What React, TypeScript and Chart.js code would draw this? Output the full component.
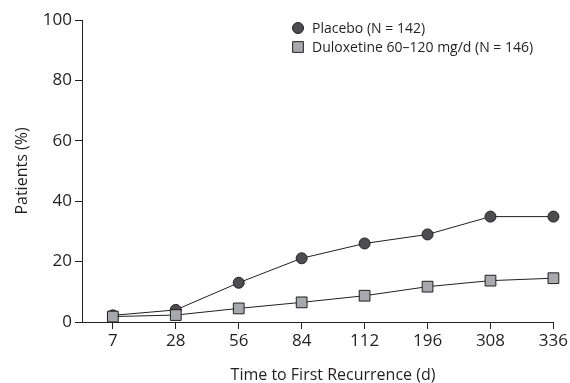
import React, { useEffect, useRef } from "react";
import { Chart, registerables } from "chart.js";

Chart.register(...registerables);

const categories = ["7", "28", "56", "84", "112", "196", "308", "336"];
const placeboValues = [2.2, 4.0, 13.0, 21.1, 26.0, 29.0, 34.9, 34.9];
const duloxetineValues = [1.8, 2.3, 4.5, 6.5, 8.7, 11.7, 13.7, 14.5];
const seriesLabels = ["Placebo (N = 142)", "Duloxetine 60\u2013120 mg/d (N = 146)"];
const yTickValues = [0, 20, 40, 60, 80, 100];
const xTitle = "Time to First Recurrence (d)";
const yTitle = "Patients (%)";

const INK = "#231f20";
const CIRCLE_FILL = "#4d4d4f";
const SQUARE_FILL = "#a7a9ac";
const FONT = "'Open Sans', 'Noto Sans', sans-serif";

const legendPlugin = {
  id: "customLegend",
  afterDraw(chart: any) {
    const ctx = chart.ctx;
    const rows = [
      { label: seriesLabels[0], style: "circle", fill: CIRCLE_FILL, radius: 5.5, y: 28 },
      { label: seriesLabels[1], style: "rect", fill: SQUARE_FILL, radius: 7.6, y: 47 },
    ];
    ctx.save();
    rows.forEach((r) => {
      ctx.fillStyle = r.fill;
      ctx.strokeStyle = INK;
      ctx.lineWidth = 1;
      ctx.beginPath();
      if (r.style === "circle") {
        ctx.arc(298, r.y, r.radius, 0, Math.PI * 2);
      } else {
        const s = Math.SQRT1_2 * r.radius;
        ctx.rect(298 - s, r.y - s, 2 * s, 2 * s);
      }
      ctx.fill();
      ctx.stroke();
      ctx.fillStyle = INK;
      ctx.font = `14px ${FONT}`;
      ctx.textAlign = "left";
      ctx.textBaseline = "middle";
      ctx.fillText(r.label, 312, r.y + 1);
    });
    // x axis title (sits slightly right of the plot centre in the reference)
    ctx.font = `16px ${FONT}`;
    ctx.textAlign = "center";
    ctx.textBaseline = "middle";
    ctx.fillText(xTitle, 333, 375);
    ctx.restore();
  },
};

export default function App() {
  const canvasRef = useRef<HTMLCanvasElement | null>(null);

  useEffect(() => {
    document.body.style.margin = "0";
    const canvas = canvasRef.current;
    if (!canvas) return;

    const chart = new Chart(canvas, {
      type: "line",
      data: {
        datasets: [
          {
            label: seriesLabels[0],
            data: placeboValues.map((v, i) => ({ x: i, y: v })),
            borderColor: INK,
            borderWidth: 1,
            backgroundColor: CIRCLE_FILL,
            pointStyle: "circle",
            pointRadius: 5.5,
            pointBorderColor: INK,
            pointBorderWidth: 1,
            pointBackgroundColor: CIRCLE_FILL,
            tension: 0,
            clip: false,
            order: 2,
          },
          {
            label: seriesLabels[1],
            data: duloxetineValues.map((v, i) => ({ x: i, y: v })),
            borderColor: INK,
            borderWidth: 1,
            backgroundColor: SQUARE_FILL,
            pointStyle: "rect",
            pointRadius: 7.6,
            pointBorderColor: INK,
            pointBorderWidth: 1,
            pointBackgroundColor: SQUARE_FILL,
            tension: 0,
            clip: false,
            order: 1,
          },
        ],
      },
      options: {
        responsive: false,
        animation: false,
        layout: { padding: { top: 20, right: 15, left: 0, bottom: 0 } },
        plugins: {
          legend: { display: false },
          tooltip: { enabled: false },
        },
        scales: {
          x: {
            type: "linear",
            min: -0.49,
            max: 7,
            afterBuildTicks: (scale: any) => {
              scale.ticks = categories.map((_, i) => ({ value: i }));
            },
            afterFit: (scale: any) => {
              scale.height = 61;
            },
            ticks: {
              autoSkip: false,
              maxRotation: 0,
              padding: 2,
              color: INK,
              font: { family: FONT, size: 17 },
              callback: (v: any) => categories[v as number] ?? "",
            },
            grid: {
              drawOnChartArea: false,
              drawTicks: true,
              tickLength: 7,
              color: INK,
            },
            border: { display: true, color: INK, width: 1 },
            title: { display: false, text: xTitle },
          },
          y: {
            min: 0,
            max: 100,
            afterBuildTicks: (scale: any) => {
              scale.ticks = yTickValues.map((v) => ({ value: v }));
            },
            afterFit: (scale: any) => {
              scale.width = 82;
            },
            ticks: {
              padding: 3,
              color: INK,
              font: { family: FONT, size: 17 },
            },
            grid: {
              drawOnChartArea: false,
              drawTicks: true,
              tickLength: 7,
              color: INK,
            },
            border: { display: true, color: INK, width: 1 },
            title: {
              display: true,
              text: yTitle,
              color: INK,
              font: { family: FONT, size: 16, lineHeight: 1 },
              padding: { top: 14, bottom: 0 },
            },
          },
        },
      },
      plugins: [legendPlugin],
    });

    return () => chart.destroy();
  }, []);

  return (
    <div style={{ width: 570, height: 383 }}>
      <canvas ref={canvasRef} width={570} height={383} />
    </div>
  );
}
